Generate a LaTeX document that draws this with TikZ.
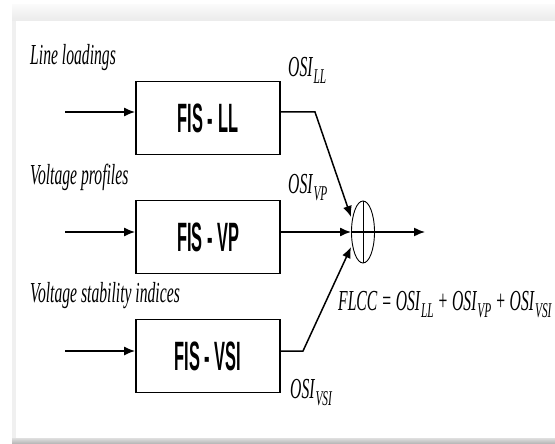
\documentclass[tikz,border=0pt]{standalone}
\usepackage{fontspec}
\usetikzlibrary{arrows.meta, shapes.geometric}
\newfontfamily\lblfont[FakeStretch=0.54]{Liberation Serif}
\newfontfamily\boxfont[FakeStretch=0.4]{Liberation Sans}
\newcommand\osisub[1]{OSI\kern1pt\raisebox{-7pt}{\fontsize{21}{21}\selectfont #1}}

\begin{document}
\begin{tikzpicture}[x=1pt, y=-1pt,
  fisbox/.style={draw, line width=1.8pt, minimum width=144pt,
                 minimum height=73pt, inner sep=0pt,
                 font=\boxfont\bfseries\fontsize{41}{43}\selectfont},
  lbl/.style={anchor=west, inner sep=0pt,
              font=\lblfont\itshape\fontsize{29}{31}\selectfont},
  wire/.style={line width=1.5pt},
  arr/.style={-{Latex[length=11pt,width=9pt]}}]
  \def\bx{208}  % box centre x
  \def\lx{30}   % label left x

  % page and frame
  \useasboundingbox (0,0) rectangle (555,444);
  \fill[white] (0,0) rectangle (555,444);
  \shade[top color=gray!4, bottom color=gray!16] (12,5) rectangle (555,21);
  \fill[gray!12] (12,21) rectangle (16,444);
  \shade[top color=gray!25, bottom color=gray!60] (12,438) rectangle (555,444);

  \foreach \nm/\txt/\yc/\ya/\lab in {
    ll/LL/118/112/Line loadings,
    vp/VP/237/232/Voltage profiles,
    vsi/VSI/356/351/Voltage stability indices
  }{
    % FIS block
    \node[fisbox] (\nm) at (\bx,\yc) {FIS - \txt};
    % input
    \coordinate (in\nm) at (65,\ya);
    \draw[wire, arr] (in\nm) -- (in\nm -| \nm.west);
    \node[lbl] (lab\nm) at (\lx,\yc-60) {\lab};
  }

  % summing junction
  \node[draw, ellipse, line width=0.9pt, minimum width=23pt,
        minimum height=62pt, inner sep=0pt] (sum) at (363,232) {};
  \draw[line width=0.7pt] (sum.north) -- (sum.south);

  % outputs
  \coordinate (kll) at (315,112);
  \coordinate (kvsi) at (303,351);
  \draw[wire, arr] (kll -| ll.east) -- (kll) -- ([yshift=15pt]sum.west);
  \draw[wire, arr] (vp.east |- sum) -- (sum.west);
  \draw[wire, arr] (kvsi -| vsi.east) -- (kvsi) -- ([yshift=-15pt]sum.west);
  \coordinate (out) at (425,232);
  \draw[wire, arr] (sum.west) -- (out);

  \node[lbl] (osill) at (288,70) {\osisub{LL}};
  \node[lbl] (osivp) at (288,188) {\osisub{VP}};
  \node[lbl] (osivsi) at (290,393) {\osisub{VSI}};

  \node[lbl] (flcc) at (338,305)
    {FLCC = \osisub{LL} + \osisub{VP} + \osisub{VSI}};
\end{tikzpicture}
\end{document}
